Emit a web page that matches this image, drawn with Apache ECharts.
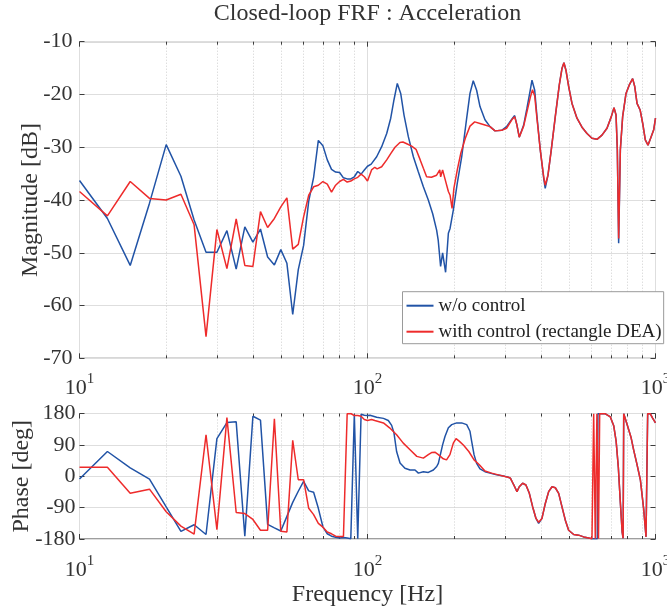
<!DOCTYPE html>
<html>
<head>
<meta charset="utf-8">
<script src="https://cdn.jsdelivr.net/npm/echarts@6/dist/echarts.min.js"></script>
<style>
  html, body { margin: 0; padding: 0; background: #ffffff; }
  #chart { width: 667px; height: 612px; }
</style>
</head>
<body>
<div id="chart"></div>
<script>
// Closed-loop FRF of the acceleration response, with and without control.
const seriesNames = ['w/o control', 'with control (rectangle DEA)'];

// Magnitude [dB] vs frequency [Hz]
const magWithout = [
  [10,-36.3],[12.5,-43.5],[15,-52.4],[17.5,-40.6],[20,-29.5],[22.5,-35.5],[25,-43.8],[27.5,-49.9],
  [30,-49.9],[32.5,-45.8],[35,-53.1],[37.5,-45.1],[40,-48.0],[42.5,-45.5],[45,-50.8],[47.5,-52.3],
  [50,-49.4],[52.5,-52.0],[55,-61.7],[57.5,-53.2],[60,-48.6],[62.5,-40.2],[65,-35.7],[67.5,-28.7],
  [70,-29.7],[72.5,-32.4],[75,-34.2],[77.5,-34.7],[80,-34.8],[82.5,-35.8],[85,-36.0],[87.5,-36.0],
  [90,-35.6],[92.5,-34.6],[95,-35.1],[97.5,-34.3],[100,-33.6],[103,-33.2],[107.6,-31.8],[112,-29.9],
  [116.6,-27.4],[120.4,-24.5],[123.6,-21.0],[126.9,-17.9],[130.4,-19.8],[133.9,-23.9],[138.6,-28.0],
  [144.3,-31.8],[150,-34.6],[156.3,-37.5],[162.6,-40.0],[168.4,-42.6],[173.8,-45.7],[176,-47.6],
  [179.4,-52.6],[182.3,-50.0],[186.7,-53.7],[190.9,-46.3],[193.5,-45.4],[198.6,-41.9],[205,-36.8],
  [212.4,-31.8],[221,-24.5],[226.9,-19.8],[232.9,-17.4],[239.3,-19.2],[245.8,-22.3],[255.8,-24.8],
  [266.3,-26.1],[277.2,-26.9],[292.4,-26.8],[304,-26.1],[317,-24.7],[324.3,-24.0],[330.3,-25.8],
  [336.4,-28.1],[348.5,-25.8],[357.8,-22.6],[367.4,-19.2],[372.5,-17.3],[380.7,-19.2],[387.7,-24.2],
  [398,-30.5],[409.1,-35.9],[414,-37.8],[423.3,-35.3],[434.6,-30.5],[448.8,-24.2],[463.4,-18.2],
  [473.4,-15.1],[480.9,-14.0],[488.7,-15.4],[499.5,-18.5],[512.9,-21.7],[533.8,-24.5],[555.6,-26.2],
  [578.3,-27.4],[601.8,-28.3],[626.4,-28.5],[651.9,-27.7],[678.5,-26.4],[702.4,-24.2],[717.6,-22.5],
  [729.4,-23.9],[737,-30.5],[744.8,-48.2],[755,-30.5],[769,-24.2],[790,-19.8],[811,-18.2],[833,-17.0],
  [847,-18.5],[862.8,-21.7],[885,-23.0],[902.8,-25.5],[921.7,-28.6],[941.8,-29.6],[961.7,-28.3],
  [985.8,-26.7],[1000,-24.5]
];
const magWith = [
  [10,-38.4],[12.5,-43.0],[15,-36.5],[17.5,-39.7],[20,-40.0],[22.5,-38.9],[25,-44.7],[27.5,-65.9],
  [30,-45.6],[32.5,-53.0],[35,-43.6],[37.5,-52.4],[40,-52.6],[42.5,-42.2],[45,-45.2],[47.5,-43.5],
  [50,-41.3],[52.5,-39.6],[55,-49.3],[57.5,-48.4],[60,-43.2],[62.5,-39.1],[65,-37.5],[67.5,-37.2],
  [70,-36.5],[72.5,-37.0],[75,-38.5],[77.5,-37.2],[80,-36.5],[82.5,-36.1],[85,-36.6],[87.5,-36.4],
  [90,-36.0],[92.5,-35.7],[95,-35.1],[97.5,-35.6],[100,-36.4],[103.3,-34.3],[106,-33.8],[108,-34.1],
  [112,-33.7],[116.6,-32.4],[120.4,-31.2],[124.6,-30.0],[129.6,-29.1],[132.7,-29.0],[136.3,-29.3],
  [142.3,-29.8],[147.4,-30.4],[152.4,-32.4],[156.3,-34.0],[160.4,-35.6],[166.7,-35.7],[173.8,-35.3],
  [178.2,-34.3],[179.5,-35.6],[182.3,-34.3],[185.6,-35.9],[190.9,-38.4],[193.5,-39.1],[196.6,-41.6],
  [199.5,-37.8],[205,-34.3],[210.7,-31.2],[218.6,-28.3],[226.9,-26.0],[235.6,-25.2],[245.8,-25.5],
  [255.8,-25.8],[266.3,-26.1],[277.2,-26.9],[292.4,-26.8],[304,-26.4],[317,-24.8],[324.3,-24.2],
  [330.3,-25.8],[336.4,-28.1],[348.5,-26.0],[357.8,-23.3],[367.4,-20.6],[374,-19.1],[380.7,-20.3],
  [387.7,-24.6],[398,-30.5],[409.1,-35.6],[414,-37.2],[423.3,-35.3],[434.6,-30.5],[448.8,-24.2],
  [463.4,-18.2],[473.4,-15.1],[480.9,-14.0],[488.7,-15.4],[499.5,-18.5],[512.9,-21.7],[533.8,-24.5],
  [555.6,-26.2],[578.3,-27.4],[601.8,-28.3],[626.4,-28.5],[651.9,-27.7],[678.5,-26.4],[702.4,-24.2],
  [717.6,-22.5],[729.4,-23.9],[737,-30.5],[744.8,-47.3],[755,-30.5],[769,-24.2],[790,-19.8],
  [811,-18.2],[833,-17.0],[847,-18.5],[862.8,-21.7],[885,-23.0],[902.8,-25.5],[921.7,-28.6],
  [941.8,-29.6],[961.7,-28.3],[985.8,-26.7],[1000,-24.5]
];

// Phase [deg] vs frequency [Hz]
const phaseWithout = [
  [10,-8],[12.5,71],[15,24],[17.5,-8],[20,-88],[22.5,-158],[25,-139],[27.5,-167],[30,108],[32.5,154],
  [35,156],[37.5,-172],[40,172],[42.5,161],[45,-138],[47.5,-148],[50,-157],[52.5,-115],[55,-75],
  [57.5,-43],[60,-15],[62.5,-42],[65,-46],[67.5,-92],[70,-145],[72.5,-165],[75,-172],[77.5,-175],
  [80,-177],[82.5,-176],[85,-177],[87.5,-179],[90,177],[92.5,-179],[95,178],[97.5,175],[100,174],
  [102,175],[107.6,169],[113.6,166],[118.1,160],[121.3,146],[123.6,124],[126.2,71],[129.7,38],
  [134.9,23],[140.5,18],[146.2,18],[150.2,9],[156.3,13],[162.6,11],[169.3,18],[173.9,28],[176.2,37],
  [178.6,42],[182.3,90],[185.8,114],[190.9,139],[196.1,148],[204,153],[212.3,153],[221,148],
  [226.9,129],[230,100],[234.4,62],[239.3,37],[245.8,21],[255.8,13],[266.3,9],[280.9,4],[296.3,1],
  [308.3,-3],[314,-6],[317.6,-15],[324.3,-30],[330.4,-44],[336.5,-30],[345.7,-20],[354.9,-25],
  [364.7,-49],[374.6,-88],[384.6,-121],[392.9,-135],[403.4,-121],[414.4,-78],[425.6,-44],[437.2,-30],
  [448.9,-33],[461.1,-49],[473.5,-88],[486.3,-126],[499.4,-155],[519.9,-167],[541,-169],[563,-174],
  [586.1,-177],[601.8,-179],[628,-179.5],[631,179.5],[643.4,179],[669.9,179],[697,170],[716,145],
  [730,100],[743,25],[755,-75],[766,-160],[772,-178],[775.6,179],[796,150],[822,112],[840,75],
  [862,35],[886,-10],[910,-95],[927,-174],[935,-178],[939.3,179],[959.4,179],[977.2,167],[1000,153]
];
const phaseWith = [
  [10,26],[12.5,26],[15,-49],[17.5,-37],[20,-102],[22.5,-143],[25,-166],[27.5,119],[30,-153],
  [32.5,168],[35,-104],[37.5,-107],[40,-124],[42.5,-155],[45,-155],[47.5,165],[50,-158],[52.5,-160],
  [55,103],[57.5,-10],[60,-10],[62.5,-92],[65,-110],[67.5,-135],[70,-146],[72.5,-160],[75,-165],
  [77.5,-172],[80,-173],[82.5,-173],[85,179],[87.5,180],[90,174],[92.5,174],[95,172],[97.5,163],
  [100,160],[103.3,163],[106,160],[107.6,162],[113.6,153],[119.3,139],[126.2,119],[133.1,95],
  [140.5,76],[148.3,57],[156.3,52],[162.6,62],[166.9,68],[171.4,69],[176.2,62],[183.3,50],[188.1,47],
  [193.3,62],[198.6,95],[203,108],[208.6,100],[215.6,89],[224.8,71],[234.4,47],[244.5,33],[255.8,15],
  [269.9,9],[284.6,4],[300.3,-1],[312.3,-4],[317.6,-15],[324.3,-30],[330.4,-44],[336.5,-30],
  [345.7,-20],[354.9,-25],[364.7,-49],[374.6,-88],[384.6,-121],[392.9,-132],[403.4,-121],[414.4,-78],
  [425.6,-44],[437.2,-30],[448.9,-33],[461.1,-49],[473.5,-88],[486.3,-126],[499.4,-155],[519.9,-167],
  [541,-169],[563,-174],[586.1,-177],[601.8,-179],[608,-179],[610,179],[616,179],[618,-179],
  [624,-179],[626,179],[632,179],[634,-179],[638,-179],[640,179],[669.9,179],[697,170],[716,145],
  [730,100],[743,25],[755,-75],[766,-160],[772,-178],[775.6,179],[796,150],[822,112],[840,75],
  [862,35],[886,-10],[910,-95],[927,-174],[935,-178],[939.3,179],[959.4,179],[977.2,167],[1000,153]
];

// Axis ranges
const freqRange = [10, 1000];
const magRange = [-70, -10, 10];     // min, max, step
const phaseRange = [-180, 180, 90];  // min, max, step

const FONT = '"Liberation Serif", "Times New Roman", serif';
const TEXT = '#333333';
const AXIS = '#3c3c3c';
const BLUE = '#2153a6';
const RED = '#ee2b2b';

const chart = echarts.init(document.getElementById('chart'), null, { renderer: 'canvas' });

// Plot boxes; the border of each grid forms the frame
const grids = [
  { left: 79.5, width: 576, top: 41.7, height: 316.6 },
  { left: 79.5, width: 576, top: 413.5, height: 125.5 }
];

function freqAxis(gridIndex, position, withLabels, labelMargin) {
  const main = position === 'bottom';
  return {
    type: 'log', logBase: 10, gridIndex, position,
    min: freqRange[0], max: freqRange[1],
    axisLine: { show: false, onZero: false },
    axisTick: { show: true, inside: true, length: 5, lineStyle: { color: AXIS } },
    minorTick: { show: true, splitNumber: 9, length: 3, lineStyle: { color: AXIS } },
    splitLine: { show: main, lineStyle: { color: '#dedede', width: 1 } },
    minorSplitLine: { show: main, lineStyle: { color: '#cfcfcf', width: 1, type: [1, 2] } },
    axisLabel: withLabels ? {
      show: true, margin: labelMargin, showMinLabel: true, showMaxLabel: true,
      formatter: v => '{b|10}{s|' + Math.round(Math.log10(v)) + '}',
      rich: {
        b: { fontFamily: FONT, fontSize: 22, color: TEXT, lineHeight: 28, verticalAlign: 'bottom' },
        s: { fontFamily: FONT, fontSize: 15, color: TEXT, lineHeight: 14, verticalAlign: 'top' }
      }
    } : { show: false }
  };
}

function valueAxis(gridIndex, position, range, labelMargin, name, nameGap) {
  const main = position === 'left';
  const ax = {
    type: 'value', gridIndex, position,
    min: range[0], max: range[1], interval: range[2],
    axisLine: { show: false, onZero: false },
    axisTick: { show: true, inside: true, length: 5, lineStyle: { color: AXIS } },
    splitLine: { show: main, lineStyle: { color: '#dedede', width: 1 } },
    axisLabel: main ? {
      show: true, margin: labelMargin, fontFamily: FONT, fontSize: 22, color: TEXT
    } : { show: false }
  };
  if (name) {
    Object.assign(ax, {
      name, nameLocation: 'middle', nameGap, nameRotate: 90, nameMoveOverlap: false,
      nameTextStyle: { fontFamily: FONT, fontSize: 24, color: TEXT }
    });
  }
  return ax;
}

const xAxes = [
  freqAxis(0, 'bottom', true, 13),
  freqAxis(0, 'top', false),
  Object.assign(freqAxis(1, 'bottom', true, 14.5), {
    name: 'Frequency [Hz]', nameLocation: 'middle', nameGap: 44, nameMoveOverlap: false,
    nameTextStyle: { fontFamily: FONT, fontSize: 24, color: TEXT }
  }),
  freqAxis(1, 'top', false)
];
const yAxes = [
  valueAxis(0, 'left', magRange, 7, 'Magnitude [dB]', 37),
  valueAxis(0, 'right', magRange),
  valueAxis(1, 'left', phaseRange, 4, 'Phase [deg]', 46),
  valueAxis(1, 'right', phaseRange)
];

function lineSeries(name, data, color, xi, yi) {
  return {
    name, type: 'line', data, xAxisIndex: xi, yAxisIndex: yi,
    symbol: 'none', showSymbol: false, clip: true, animation: false,
    lineStyle: { color, width: 1.5 }, itemStyle: { color }
  };
}

chart.setOption({
  animation: false,
  backgroundColor: '#ffffff',
  title: {
    text: 'Closed-loop FRF : Acceleration',
    left: 367.5, top: 2, textAlign: 'center', padding: 0,
    textStyle: { fontFamily: FONT, fontSize: 24, fontWeight: 'normal', color: TEXT }
  },
  legend: {
    data: seriesNames, orient: 'vertical', left: 402.5, top: 291.7,
    icon: 'rect', itemWidth: 27, itemHeight: 2, itemGap: 6, padding: [4, 2, 2, 4],
    borderColor: '#9a9a9a', borderWidth: 1, backgroundColor: '#ffffff',
    selectedMode: false,
    textStyle: { fontFamily: FONT, fontSize: 19, color: '#222222', lineHeight: 20 }
  },
  grid: grids.map(g => Object.assign({
    containLabel: false, outerBoundsMode: 'none',
    show: true, borderColor: AXIS, borderWidth: 1, backgroundColor: 'transparent'
  }, g)),
  xAxis: xAxes,
  yAxis: yAxes,
  series: [
    lineSeries(seriesNames[0], magWithout, BLUE, 0, 0),
    lineSeries(seriesNames[1], magWith, RED, 0, 0),
    lineSeries(seriesNames[0], phaseWithout, BLUE, 2, 2),
    lineSeries(seriesNames[1], phaseWith, RED, 2, 2)
  ]
});
</script>
</body>
</html>
